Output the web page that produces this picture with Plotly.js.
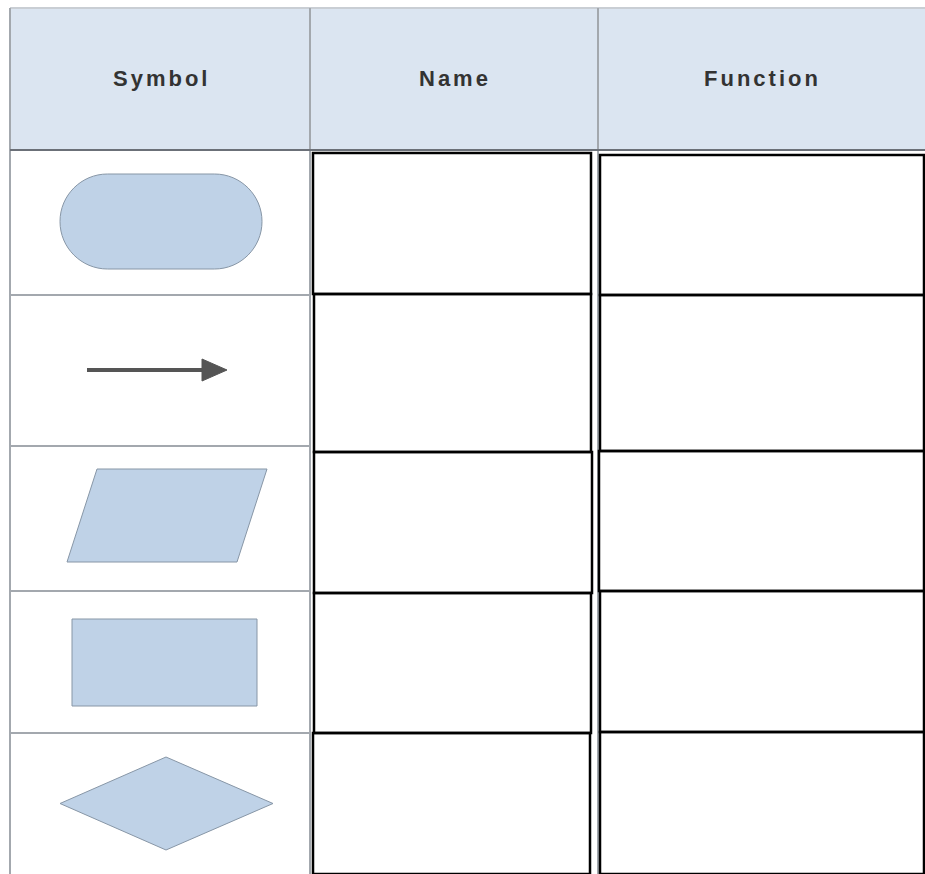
<!DOCTYPE html>
<html>
<head>
<meta charset="utf-8">
<script src="https://cdn.plot.ly/plotly-3.0.1.min.js"></script>
<style>
  html, body { margin: 0; padding: 0; background: #ffffff; }
  #chart { width: 925px; height: 874px; }
  .annotation-text { letter-spacing: 3px; }
</style>
</head>
<body>
<div id="chart"></div>
<script>
// ---- table content ----
const headers = ["Symbol", "Name", "Function"];
const symbols = ["terminator", "flowline", "inputoutput", "process", "decision"];
const nameCells = ["", "", "", "", ""];
const functionCells = ["", "", "", "", ""];

// ---- table geometry (pixel space, y downward) ----
const colEdges = [10, 310, 598, 925];
const rowEdges = [8, 150, 295, 446, 591, 733, 874];
const nameBoxX = [[313, 591], [314, 591], [314, 592], [314, 591], [313, 590]];
const nameBoxY = [[153, 294], [294, 452], [452, 593], [593, 733], [733, 874]];
const funcBoxX = [[600, 924], [600, 924], [599, 924], [600, 924], [600, 924]];
const funcBoxY = [[155, 295], [295, 451], [451, 591], [591, 732], [732, 874]];

// symbol bounding boxes [x0, x1, y0, y1]
const symbolBox = [[60, 262, 174, 269], [87, 227, 359, 381], [67, 267, 469, 562], [72, 257, 619, 706], [60, 273, 757, 850]];

const headerFill = "#dbe5f1";
const gridGray = "#a3a8ae";
const symFill = "#bfd2e7";
const symLine = "#8796a6";

function terminatorPath(b) {
  const [x0, x1, y0, y1] = b;
  const r = (y1 - y0) / 2, cy = (y0 + y1) / 2, k = 0.5523 * r;
  const L = x0 + r, R = x1 - r;
  return `M ${L} ${y0} L ${R} ${y0} ` +
    `C ${R + k} ${y0} ${x1} ${cy - k} ${x1} ${cy} ` +
    `C ${x1} ${cy + k} ${R + k} ${y1} ${R} ${y1} ` +
    `L ${L} ${y1} ` +
    `C ${L - k} ${y1} ${x0} ${cy + k} ${x0} ${cy} ` +
    `C ${x0} ${cy - k} ${L - k} ${y0} ${L} ${y0} Z`;
}
function parallelogramPath(b) {
  const [x0, x1, y0, y1] = b, s = 30;
  return `M ${x0 + s} ${y0} L ${x1} ${y0} L ${x1 - s} ${y1} L ${x0} ${y1} Z`;
}
function diamondPath(b) {
  const [x0, x1, y0, y1] = b, cx = (x0 + x1) / 2 - 0.5, cy = (y0 + y1) / 2;
  return `M ${cx} ${y0} L ${x1} ${cy} L ${cx} ${y1} L ${x0} ${cy} Z`;
}

const shapes = [];
// header background
shapes.push({type: "rect", x0: colEdges[0], x1: colEdges[3], y0: rowEdges[0], y1: rowEdges[1],
  fillcolor: headerFill, line: {width: 0}, layer: "below"});
// outer top / left borders
shapes.push({type: "line", x0: colEdges[0], x1: colEdges[3], y0: rowEdges[0], y1: rowEdges[0], line: {color: "#c9ced4", width: 2}});
shapes.push({type: "line", x0: colEdges[0], x1: colEdges[0], y0: rowEdges[0], y1: rowEdges[6], line: {color: gridGray, width: 2}});
// column dividers
[colEdges[1], colEdges[2]].forEach(x => {
  shapes.push({type: "line", x0: x, x1: x, y0: rowEdges[0], y1: rowEdges[6], line: {color: gridGray, width: 2}});
});
// header bottom
shapes.push({type: "line", x0: colEdges[0], x1: colEdges[3], y0: rowEdges[1], y1: rowEdges[1], line: {color: "#6b7078", width: 2}});
// row lines in symbol column
for (let i = 2; i < rowEdges.length - 1; i++) {
  shapes.push({type: "line", x0: colEdges[0], x1: colEdges[1], y0: rowEdges[i], y1: rowEdges[i], line: {color: gridGray, width: 2}});
}
// black boxes in Name and Function columns
for (let i = 0; i < nameCells.length; i++) {
  shapes.push({type: "rect", x0: nameBoxX[i][0], x1: nameBoxX[i][1], y0: nameBoxY[i][0], y1: nameBoxY[i][1],
    line: {color: "#000000", width: 2.5}, fillcolor: "rgba(0,0,0,0)"});
  shapes.push({type: "rect", x0: funcBoxX[i][0], x1: funcBoxX[i][1], y0: funcBoxY[i][0], y1: funcBoxY[i][1],
    line: {color: "#000000", width: 2.5}, fillcolor: "rgba(0,0,0,0)"});
}
// symbols
symbols.forEach((s, i) => {
  const b = symbolBox[i];
  if (s === "terminator") {
    shapes.push({type: "path", path: terminatorPath(b), fillcolor: symFill, line: {color: symLine, width: 1}});
  } else if (s === "flowline") {
    const cy = (b[2] + b[3]) / 2, head = 25;
    shapes.push({type: "line", x0: b[0], x1: b[1] - head + 2, y0: cy, y1: cy, line: {color: "#555555", width: 4}});
    shapes.push({type: "path", path: `M ${b[1] - head} ${b[2]} L ${b[1]} ${cy} L ${b[1] - head} ${b[3]} Z`,
      fillcolor: "#555555", line: {color: "#555555", width: 1}});
  } else if (s === "inputoutput") {
    shapes.push({type: "path", path: parallelogramPath(b), fillcolor: symFill, line: {color: symLine, width: 1}});
  } else if (s === "process") {
    shapes.push({type: "rect", x0: b[0], x1: b[1], y0: b[2], y1: b[3], fillcolor: symFill, line: {color: symLine, width: 1}});
  } else if (s === "decision") {
    shapes.push({type: "path", path: diamondPath(b), fillcolor: symFill, line: {color: symLine, width: 1}});
  }
});

const annotations = headers.map((h, i) => ({
  x: (colEdges[i] + colEdges[i + 1]) / 2 + 1, y: (rowEdges[0] + rowEdges[1]) / 2 - 1,
  xref: "x", yref: "y", text: h, showarrow: false,
  font: {family: "Liberation Sans, Arial, sans-serif", size: 22, color: "#333333", weight: "bold"},
  xanchor: "center", yanchor: "middle"
}));

const data = [{type: "scatter", x: [], y: [], mode: "markers", hoverinfo: "skip", showlegend: false}];
const layout = {
  width: 925, height: 874,
  margin: {l: 0, r: 0, t: 0, b: 0, pad: 0},
  paper_bgcolor: "#ffffff", plot_bgcolor: "#ffffff",
  xaxis: {range: [0, 925], visible: false, fixedrange: true},
  yaxis: {range: [874, 0], visible: false, fixedrange: true},
  shapes: shapes,
  annotations: annotations,
  showlegend: false
};
Plotly.newPlot("chart", data, layout, {staticPlot: true, displayModeBar: false});
</script>
</body>
</html>
